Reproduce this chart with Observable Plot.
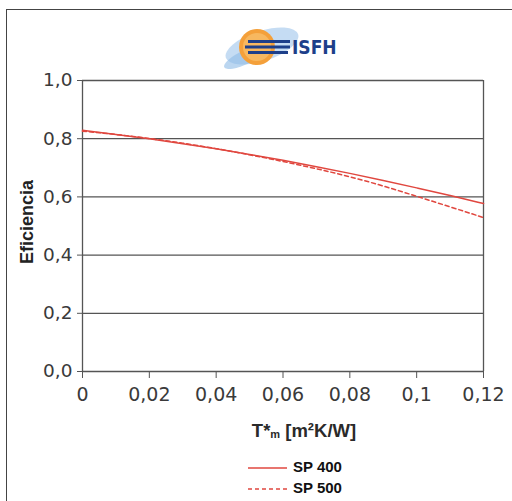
<!DOCTYPE html>
<html><head><meta charset="utf-8">
<script src="https://cdn.jsdelivr.net/npm/d3@7"></script>
<script src="https://cdn.jsdelivr.net/npm/@observablehq/plot@0.6"></script>
<style>
body{margin:0;background:#fff;font-family:"DejaVu Sans",sans-serif;}
#wrap{position:relative;width:512px;height:501px;overflow:hidden;}
#border{position:absolute;left:6px;top:9px;width:510px;height:520px;border:1.5px solid #444;box-sizing:border-box;}
#chart{position:absolute;left:0;top:0;}
#xlabel{position:absolute;left:0;width:608px;top:420px;text-align:center;font-family:"Liberation Sans",Arial,sans-serif;font-weight:bold;font-size:18.5px;color:#2a2a2a;}
#xlabel sub{font-size:11px;vertical-align:baseline;position:relative;top:1px;font-weight:bold;}
.leg{position:absolute;left:248px;font-family:"Liberation Sans",Arial,sans-serif;font-weight:bold;font-size:15px;color:#111;}
#logo{position:absolute;left:215px;top:20px;}
</style></head><body>
<div id="wrap">
<div id="border"></div>
<div id="chart"></div>
<svg id="logo" width="130" height="60" viewBox="215 20 130 60">
  <ellipse cx="262" cy="46" rx="38" ry="15" fill="#b7d3f0" opacity="0.8" transform="rotate(-18 262 46)"/>
  <ellipse cx="246" cy="57" rx="24" ry="7" fill="#8dbbe6" opacity="0.6" transform="rotate(-25 246 57)"/>
  <circle cx="257" cy="47" r="18" fill="#f4a03a"/>
  <circle cx="257" cy="47" r="14" fill="#f7b860"/>
  <rect x="248" y="40" width="42" height="3" fill="#1d3f8a"/>
  <rect x="245" y="45.5" width="45" height="3" fill="#1d3f8a"/>
  <rect x="248" y="51" width="40" height="3" fill="#1d3f8a"/>
  <text x="292" y="54" font-family="'Liberation Sans Narrow','DejaVu Sans Condensed',sans-serif" font-weight="bold" font-size="19" fill="#1d3f8a">ISFH</text>
</svg>
<div id="xlabel">T*<sub>m</sub> [m²K/W]</div>
<div class="leg" style="top:458px;"><svg width="42" height="16" style="vertical-align:middle"><line x1="0" x2="39" y1="8" y2="8" stroke="#e0473f" stroke-width="1.5"/></svg><span style="margin-left:3px">SP 400</span></div>
<div class="leg" style="top:479px;"><svg width="42" height="16" style="vertical-align:middle"><line x1="0" x2="39" y1="8" y2="8" stroke="#e0473f" stroke-width="1.5" stroke-dasharray="4,3"/></svg><span style="margin-left:3px">SP 500</span></div>
</div>
<script>
const tm = [0, 0.01, 0.02, 0.03, 0.04, 0.05, 0.06, 0.07, 0.08, 0.09, 0.10, 0.11, 0.12];
const sp400 = [0.829, 0.815, 0.800, 0.783, 0.766, 0.746, 0.726, 0.704, 0.681, 0.657, 0.631, 0.605, 0.577];
const sp500 = [0.826, 0.815, 0.801, 0.785, 0.766, 0.745, 0.722, 0.697, 0.670, 0.638, 0.602, 0.566, 0.529];
const xTicks = [0, 0.02, 0.04, 0.06, 0.08, 0.10, 0.12];
const yTicks = [0, 0.2, 0.4, 0.6, 0.8, 1.0];
const seriesNames = ["SP 400", "SP 500"];

const rows = [];
tm.forEach((t, i) => {
  rows.push({t, v: sp400[i], s: seriesNames[0]});
  rows.push({t, v: sp500[i], s: seriesNames[1]});
});
const red = "#e0473f";
const fmtX = d => String(+d.toFixed(2)).replace(".", ",");
const fmtY = d => d.toFixed(1).replace(".", ",");

const chart = Plot.plot({
  width: 512, height: 501,
  marginLeft: 82, marginRight: 29, marginTop: 80, marginBottom: 130,
  x: {domain: [0, 0.12], ticks: xTicks, tickFormat: fmtX},
  y: {domain: [0, 1], ticks: yTicks, tickFormat: fmtY},
  style: {fontFamily: "'DejaVu Sans', sans-serif", background: "transparent", overflow: "visible"},
  marks: [
    Plot.ruleY(yTicks, {stroke: "#555", strokeWidth: 1.3}),
    Plot.ruleX([0, 0.12], {stroke: "#555", strokeWidth: 1.3}),
    Plot.axisX({ticks: xTicks, tickFormat: fmtX, tickSize: 7, tickPadding: 9, fontSize: 19, stroke: "#555", fill: "#3a3a3a", label: null}),
    Plot.axisY({ticks: yTicks, tickFormat: fmtY, tickSize: 5, tickPadding: 5, fontSize: 18.5, stroke: "#555", fill: "#3a3a3a", label: null}),
    Plot.line(rows.filter(d => d.s === seriesNames[0]), {x: "t", y: "v", stroke: red, strokeWidth: 1.5, curve: "basis"}),
    Plot.line(rows.filter(d => d.s === seriesNames[1]), {x: "t", y: "v", stroke: red, strokeWidth: 1.5, strokeDasharray: "4,3", curve: "basis"}),
    Plot.text(["Eficiencia"], {frameAnchor: "left", textAnchor: "middle", rotate: -90, dx: -55, dy: -4, fontFamily: "'Liberation Sans', Arial, sans-serif", fontWeight: "bold", fontSize: 18, fill: "#222"})
  ]
});
document.getElementById("chart").appendChild(chart);
</script>
</body></html>
